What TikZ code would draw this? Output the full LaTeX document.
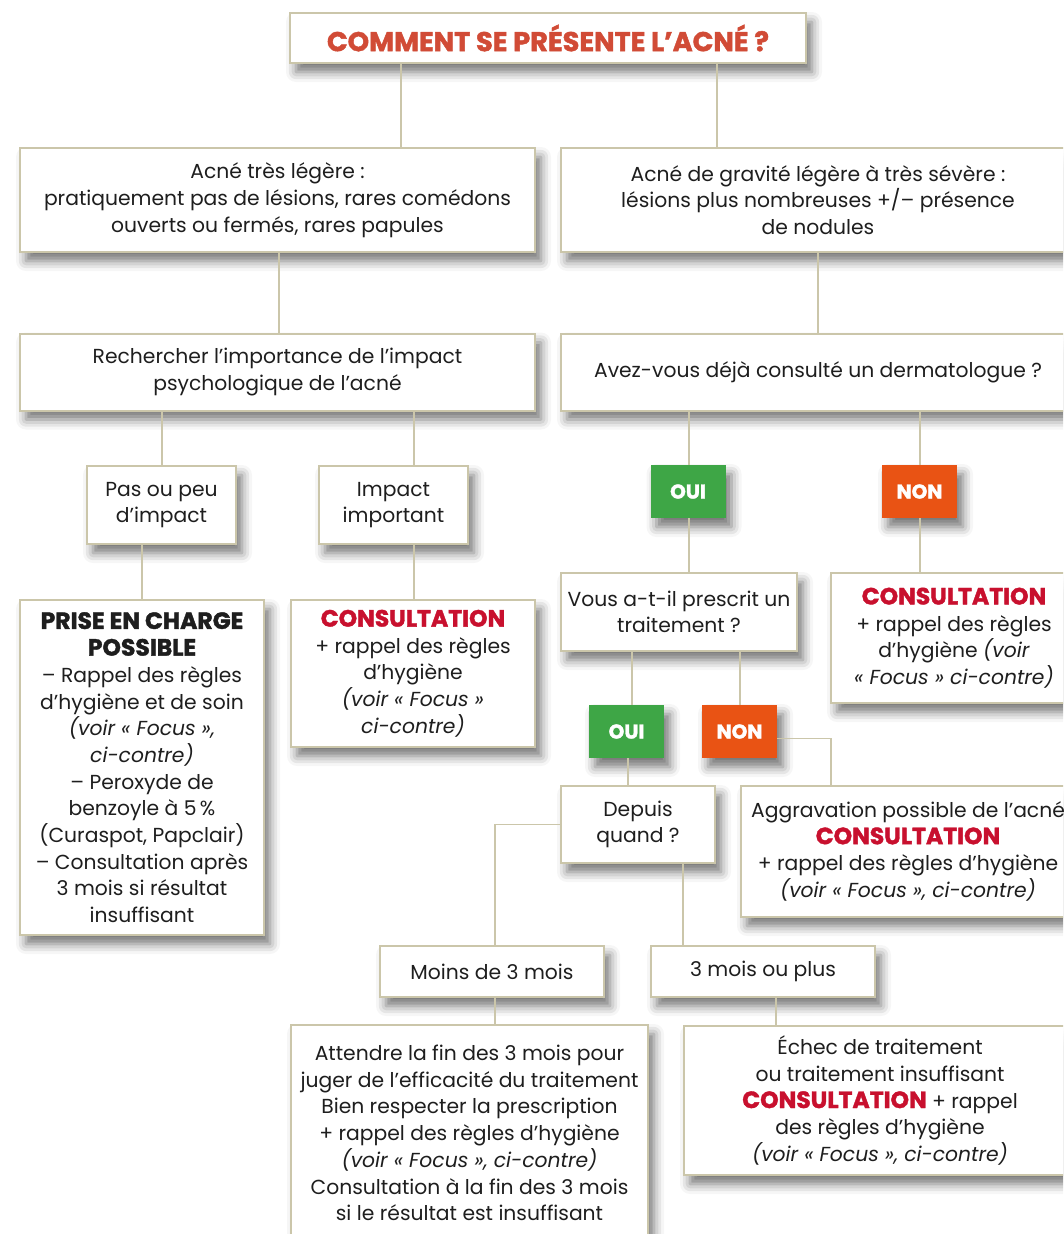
\documentclass[tikz,border=0pt]{standalone}
\usepackage{fontspec}
\setmainfont{Poppins}
\newfontfamily\heavyfont{Poppins}[BoldFeatures={FakeBold=1.6}]
\usetikzlibrary{shadows.blur}
\definecolor{edgegray}{HTML}{CBC6AA}
\definecolor{titlered}{HTML}{D14B36}
\definecolor{consred}{HTML}{C8102E}
\definecolor{ouigreen}{HTML}{3EA646}
\definecolor{nonorange}{HTML}{E95314}
\definecolor{inkgray}{HTML}{1E1E1E}
\newcommand{\heavy}[1]{{\fontsize{23.5}{26.7}\heavyfont\bfseries #1}}
\newcommand{\consult}{\heavy{\color{consred}CONSULTATION}}
\newcommand{\bodyfont}{\fontsize{20.3}{26.7}\selectfont}
\tikzset{
  box/.style = {
    rectangle,
    draw = edgegray,
    line width = 2pt,
    fill = white,
    text = inkgray,
    align = center,
    inner sep = 0pt,
    font = \bodyfont,
    blur shadow = {shadow xshift=6pt, shadow yshift=-9pt,
      shadow blur radius=10pt, shadow opacity=55}
  }
  , % OUI / NON labels
  tag/.style = {
    rectangle,
    inner sep = 0pt,
    minimum width = 75,
    minimum height = 53,
    text = white,
    font = \fontsize{20}{22}\heavyfont\bfseries,
    blur shadow = {shadow xshift=6pt, shadow yshift=-9pt,
      shadow blur radius=10pt, shadow opacity=55}
  }
  ,
  link/.style = {
    draw = edgegray,
    line width = 1.4pt
  }
}
\begin{document}
\begin{tikzpicture}[x=1pt, y=-1pt]
  \useasboundingbox (0,0) rectangle (1063,1234);
  \clip (0,0) rectangle (1063,1234);

  \node [box, minimum width=516, minimum height=50, text=titlered,
    font=\fontsize{27.2}{30}\heavyfont\bfseries] (top) at (548,38)
    {COMMENT SE PRÉSENTE L’ACNÉ ?};

  \node [box, minimum width=515, minimum height=104] (mild) at (277.5,200)
    {Acné très légère :\\pratiquement pas de lésions, rares comédons\\ouverts ou fermés, rares papules};
  \node [box, minimum width=514, minimum height=104] (severe) at (818,200)
    {Acné de gravité légère à très sévère :\\lésions plus nombreuses +/– présence\\de nodules};

  \node [box, minimum width=515, minimum height=77] (impact) at (277.5,372)
    {Rechercher l’importance de l’impact\\psychologique de l’acné};
  \node [box, minimum width=514, minimum height=77] (derm) at (818,372)
    {Avez-vous déjà consulté un dermatologue ?};

  \node [box, minimum width=149, minimum height=78] (peu) at (161.5,505)
    {Pas ou peu\\d’impact};
  \node [box, minimum width=149, minimum height=78] (fort) at (393.5,505)
    {Impact\\important};
  \node [tag, fill=ouigreen] (oui1) at (688,491.5) {OUI};
  \node [tag, fill=nonorange] (non1) at (919.5,491.5) {NON};

  \node [box, minimum width=244, minimum height=335] (prise) at (142,767.5)
    {\heavy{PRISE EN CHARGE}\\\heavy{POSSIBLE}\\– Rappel des règles\\d’hygiène et de soin\\\textit{(voir «~Focus~»,}\\\textit{ci-contre)}\\– Peroxyde de\\benzoyle à 5\,\%\\(Curaspot, Papclair)\\– Consultation après\\3 mois si résultat\\insuffisant};
  \node [box, minimum width=244, minimum height=147] (consa) at (413,673.5)
    {\consult\\+ rappel des règles\\d’hygiène\\\textit{(voir «~Focus~»}\\\textit{ci-contre)}};
  \node [box, minimum width=236, minimum height=78] (presc) at (679,612)
    {Vous a-t-il prescrit un\\traitement ?};
  \node [box, minimum width=246, minimum height=130] (consb) at (954,638)
    {\consult\\+ rappel des règles\\d’hygiène \textit{(voir}\\\textit{«~Focus~» ci-contre)}};

  \node [tag, fill=ouigreen] (oui2) at (626.5,731.5) {OUI};
  \node [tag, fill=nonorange] (non2) at (739.5,731.5) {NON};

  \node [box, minimum width=154, minimum height=77] (depuis) at (638,824.5)
    {Depuis\\quand ?};
  \node [box, minimum width=334, minimum height=131] (aggr) at (908,851.5)
    {Aggravation possible de l’acné\\\consult\\+ rappel des règles d’hygiène\\\textit{(voir «~Focus~», ci-contre)}};

  \node [box, minimum width=224, minimum height=51] (moins) at (492,971.5)
    {Moins de 3 mois};
  \node [box, minimum width=224, minimum height=51] (plus) at (763,971.5)
    {3 mois ou plus};

  \node [box, minimum width=357, minimum height=216] (attendre) at (469.5,1133)
    {Attendre la fin des 3 mois pour\\juger de l’efficacité du traitement\\Bien respecter la prescription\\+ rappel des règles d’hygiène\\\textit{(voir «~Focus~», ci-contre)}\\Consultation à la fin des 3 mois\\si le résultat est insuffisant};
  \node [box, minimum width=392, minimum height=149] (echec) at (880,1100.5)
    {Échec de traitement\\ou traitement insuffisant\\\consult{} + rappel\\des règles d’hygiène\\\textit{(voir «~Focus~», ci-contre)}};

  % vertical links
  \foreach \x/\a/\b in {401/top/mild, 717/top/severe, 279/mild/impact,
      818/severe/derm, 162/impact/peu, 414/impact/fort, 689/derm/oui1,
      920/derm/non1, 142/peu/prise, 414/fort/consa, 689/oui1/presc,
      920/non1/consb, 632/presc/oui2, 740/presc/non2, 628/oui2/depuis,
      683/depuis/plus, 495/moins/attendre, 776/plus/echec}
    \draw [link] (\x,0 |- \a.south) -- (\x,0 |- \b.north);

  % elbow links
  \draw [link] ([yshift=-7pt]non2.east) -| (831,0 |- aggr.north);
  \draw [link] (depuis.west) -| (495,0 |- moins.north);
\end{tikzpicture}
\end{document}
